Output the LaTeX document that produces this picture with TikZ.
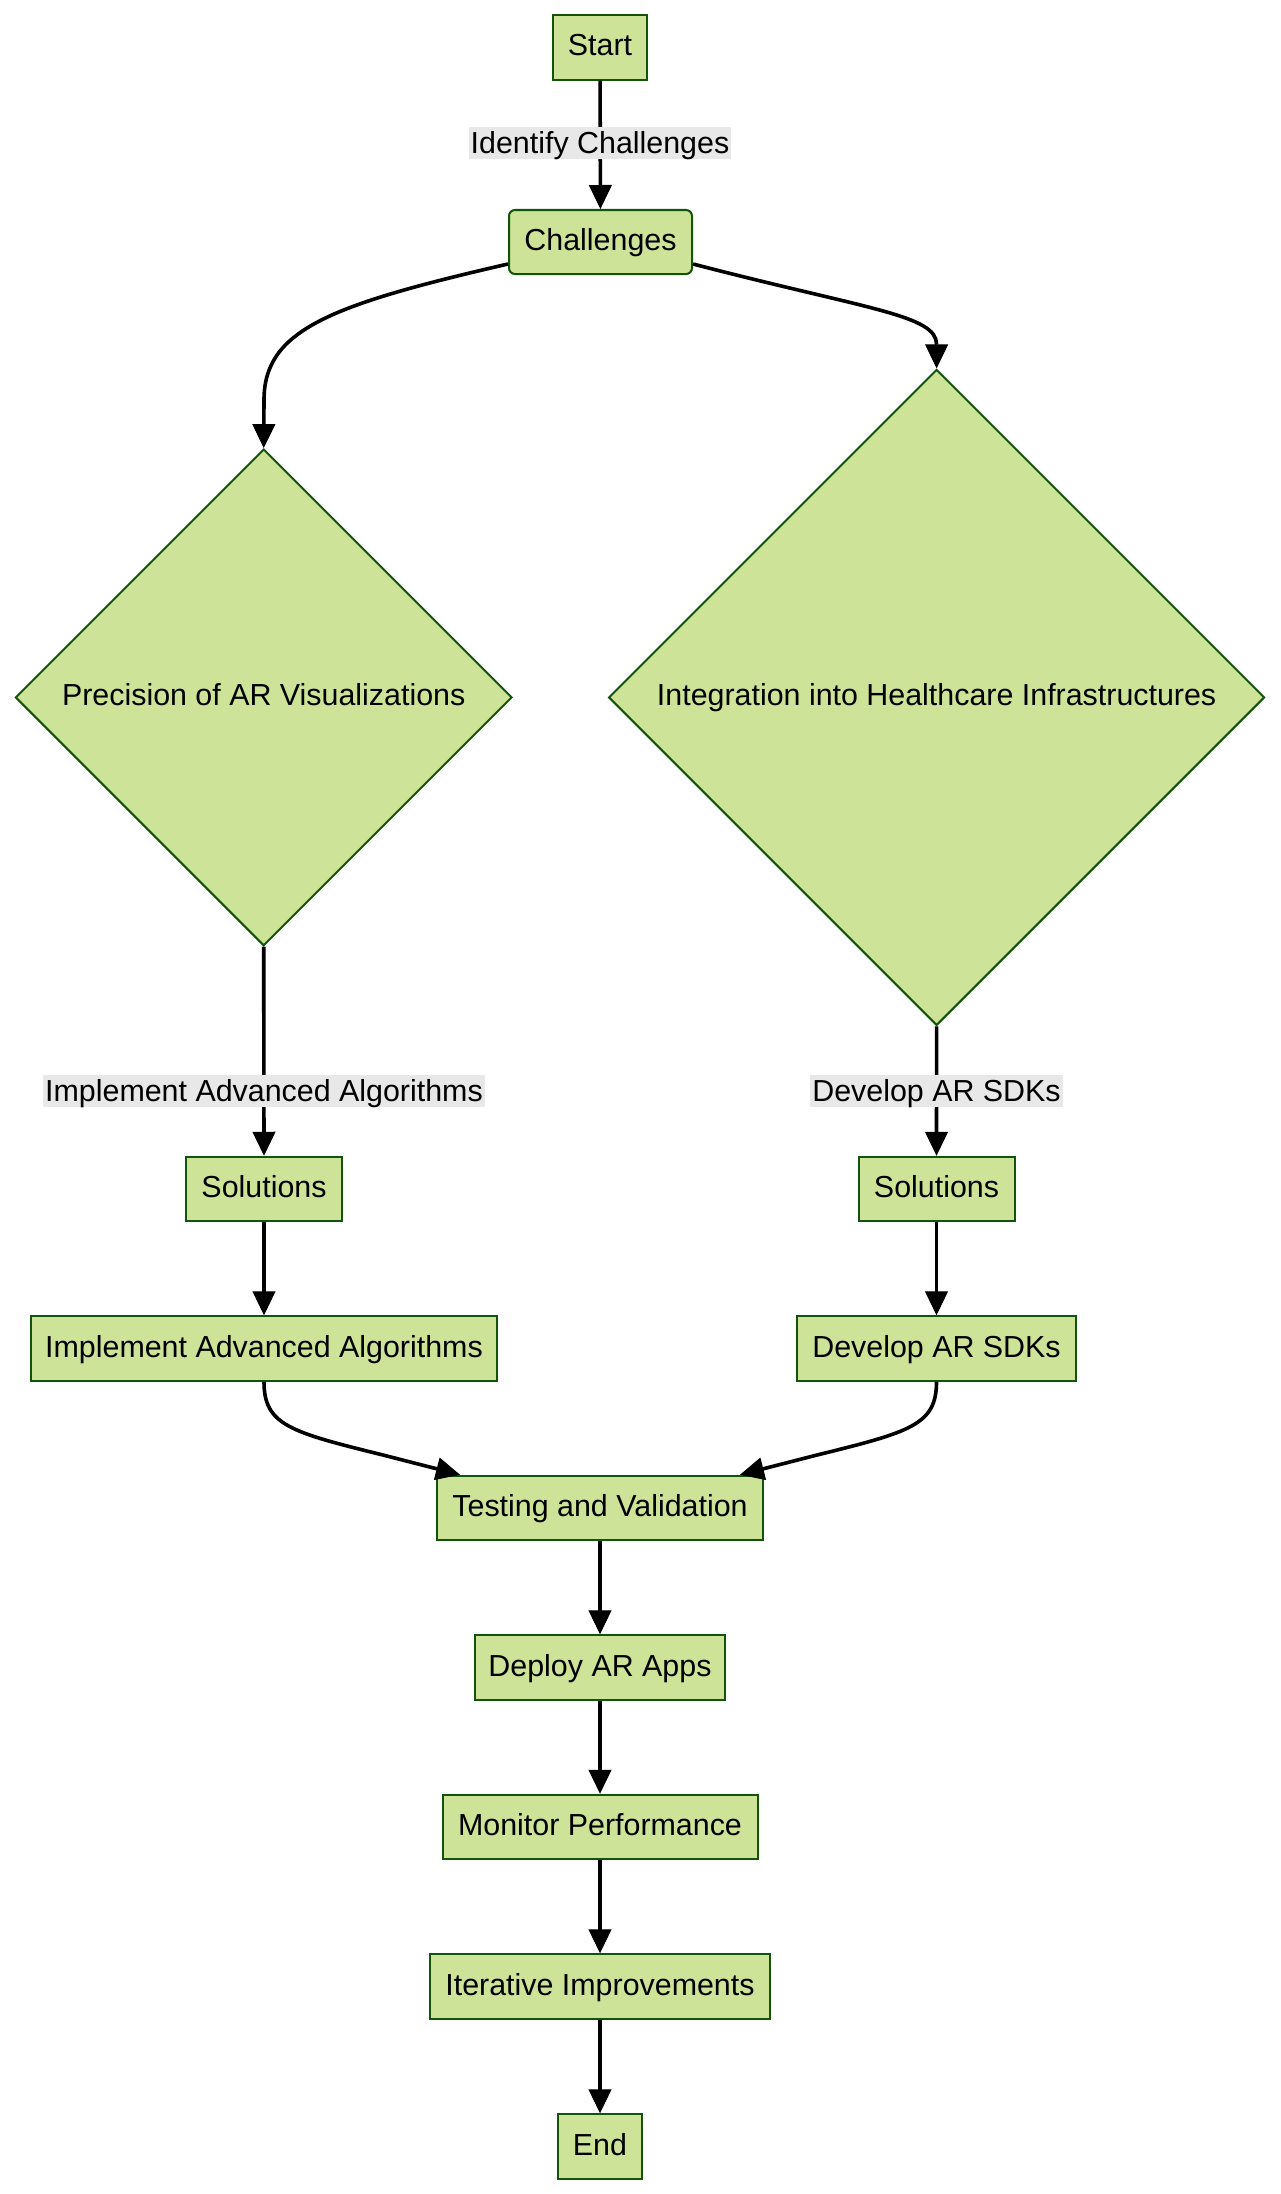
\documentclass[tikz,border=0pt]{standalone}
\usepackage{fontspec}
\setmainfont{Liberation Sans}
\usetikzlibrary{arrows.meta,shapes.geometric,calc}
\definecolor{nodefill}{HTML}{CDE498}
\definecolor{nodeline}{HTML}{13540C}
\definecolor{lblbg}{HTML}{E8E8E8}
\begin{document}
\begin{tikzpicture}[x=1pt,y=-1pt,
  base/.style={font=\fontsize{30.4}{36}\selectfont, text height=23pt, text depth=6pt},
  box/.style={base, draw=nodeline, fill=nodefill, line width=2pt, minimum height=64.5pt, inner xsep=4pt, inner ysep=0pt},
  rbox/.style={box, rounded corners=6pt},
  dia/.style={base, draw=nodeline, fill=nodefill, line width=2pt, diamond, aspect=1, inner sep=0pt},
  elabel/.style={font=\fontsize{30.4}{36}\selectfont, fill=lblbg, text height=27pt, text depth=5pt, inner xsep=2pt, inner ysep=0pt},
  flow/.style={line width=3.6pt, -{Triangle[length=24pt,width=23pt,line width=1pt]}},
]
\useasboundingbox (0,0) rectangle (1280,2194);

% nodes
\node[box, minimum width=94pt] (start) at (600,47.5) {Start};
\node[rbox, minimum width=183pt, minimum height=64pt] (ch) at (600.5,242) {Challenges};
\node[dia, minimum width=496.6pt, minimum height=496.6pt] (d1) at (263.7,697.4) {Precision of AR Visualizations};
\node[dia, minimum width=656pt, minimum height=656pt] (d2) at (936.6,697.4) {Integration into Healthcare Infrastructures};
\node[box, minimum width=156pt] (s1) at (264,1189) {Solutions};
\node[box, minimum width=156pt] (s2) at (936.5,1189) {Solutions};
\node[box, minimum width=466pt] (imp) at (264,1348.5) {Implement Advanced Algorithms};
\node[box, minimum width=279pt] (dev) at (936.5,1348.5) {Develop AR SDKs};
\node[box, minimum width=326pt] (tv) at (600,1508) {Testing and Validation};
\node[box, minimum width=250pt] (dep) at (600,1667.5) {Deploy AR Apps};
\node[box, minimum width=315pt] (mon) at (600,1827) {Monitor Performance};
\node[box, minimum width=340pt] (it) at (600,1986.5) {Iterative Improvements};
\node[box, minimum width=84pt] (end) at (600,2146.5) {End};

% connectors
\draw[flow] (start) -- (ch);
\draw[flow] ($(ch.south west)+(0,-11)$) .. controls (330,305) and (264,330) .. (264,400) -- (d1.north);
\draw[flow] ($(ch.south east)+(0,-11)$) .. controls (870,310) and (936.6,315) .. (d2.north);
\draw[flow] (d1.south) -- (s1.north);
\draw[flow] (d2.south) -- (s2.north);
\draw[flow] (s1) -- (imp);
\draw[flow] (s2) -- (dev);
\draw[flow] (imp.south) .. controls (264,1425) and (290,1432) .. (383,1455) -- ($(tv.north west)+(24,0)$);
\draw[flow] (dev.south) .. controls (936.5,1425) and (910,1432) .. (817,1455) -- ($(tv.north east)+(-24,0)$);
\draw[flow] (tv) -- (dep);
\draw[flow] (dep) -- (mon);
\draw[flow] (mon) -- (it);
\draw[flow] (it) -- (end);

% edge labels
\node[elabel] (l1) at (600,143) {Identify Challenges};
\node[elabel] (l2) at (264,1090.5) {Implement Advanced Algorithms};
\node[elabel] (l3) at (936.5,1090.5) {Develop AR SDKs};
\end{tikzpicture}
\end{document}
